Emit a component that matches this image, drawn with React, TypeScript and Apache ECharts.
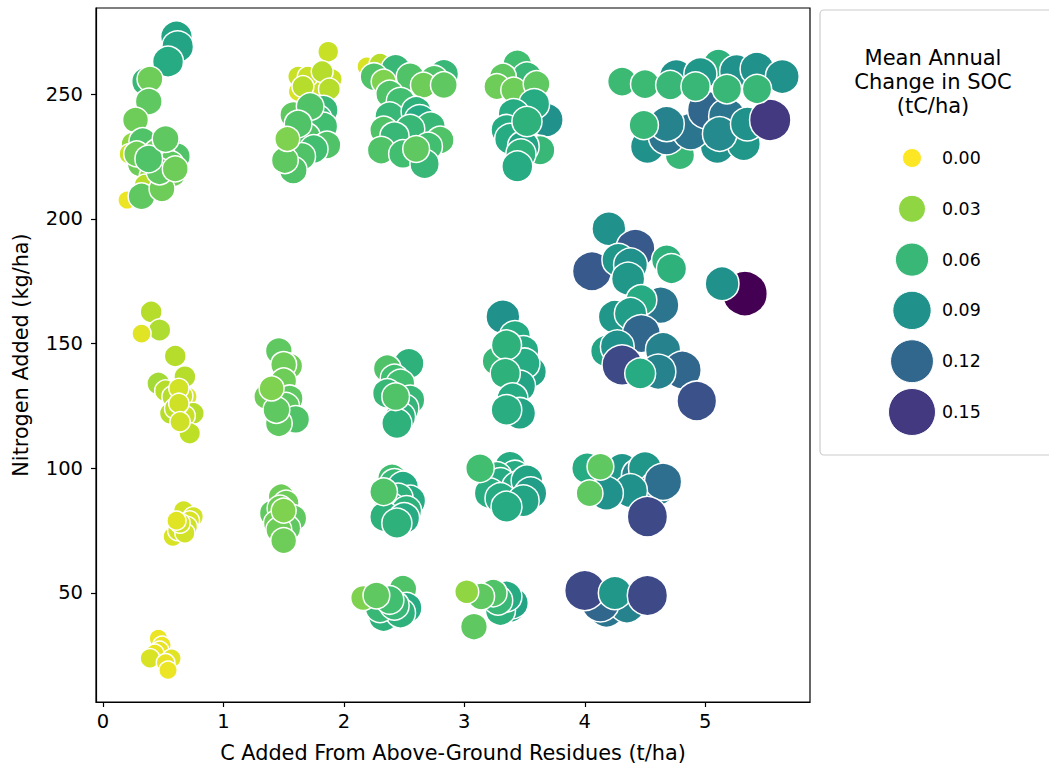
import React, { useEffect, useRef } from "react";
import * as echarts from "echarts";

// C added from above-ground residues (t/ha)
const residueC = [
  // cluster ~0.4, N 205-273
  0.61, 0.62, 0.54, 0.36, 0.39, 0.38, 0.27, 0.25, 0.33, 0.45, 0.54, 0.61, 0.22, 0.31, 0.43, 0.5, 0.56, 0.58, 0.4, 0.2, 0.35, 0.32, 0.49,
  0.28, 0.47, 0.38, 0.6, 0.52,
  // cluster ~1.7, N 219-267
  1.87, 1.9, 1.62, 1.77, 1.62, 1.7, 1.82, 1.66, 1.88, 1.83, 1.78, 1.58, 1.83, 1.69, 1.86, 1.72, 1.75, 1.62, 1.65, 1.58, 1.51, 1.53,
  // cluster ~2.5, N 222-262
  2.19, 2.3, 2.43, 2.25, 2.55, 2.83, 2.75, 2.33, 2.66, 2.83, 2.38, 2.47, 2.38, 2.6, 2.63, 2.72, 2.33, 2.55, 2.42, 2.8, 2.7, 2.31, 2.49, 2.67, 2.6,
  // cluster ~3.45, N 221-262
  3.44, 3.52, 3.32, 3.27, 3.41, 3.6, 3.68, 3.58, 3.41, 3.35, 3.38, 3.63, 3.49, 3.47, 3.44, 3.52,
  // cluster ~5, N 225-262
  5.11, 4.76, 4.96, 5.26, 5.43, 5.64, 4.52, 4.79, 5.1, 5.32, 4.68, 4.88, 5.01, 5.18, 5.12, 5.35, 5.54, 4.68,
  4.31, 4.5, 4.71, 4.92, 5.18, 5.43, 4.49,
  // cluster ~4.5, N 127-196
  4.2, 4.42, 4.06, 4.28, 4.38, 4.36, 4.68, 4.72, 5.33, 5.14, 4.63, 4.47, 4.25, 4.38, 4.47, 4.18, 4.27, 4.65, 4.31, 4.81, 4.93, 4.61, 4.46,
  // cluster ~3.4, N 122-161
  3.32, 3.27, 3.42, 3.55, 3.49, 3.5, 3.35, 3.46, 3.34, 3.4, 3.46, 3.35,
  // cluster ~2.45, N 118-142
  2.54, 2.36, 2.42, 2.47, 2.36, 2.55, 2.5, 2.47, 2.44, 2.43,
  // cluster ~1.5, N 118-147
  1.46, 1.55, 1.5, 1.5, 1.36, 1.55, 1.52, 1.6, 1.46, 1.44, 1.4,
  // cluster ~0.6, N 114-163
  0.4, 0.47, 0.32, 0.6, 0.46, 0.68, 0.52, 0.7, 0.58, 0.66, 0.63, 0.75, 0.56, 0.68, 0.6, 0.63, 0.72, 0.64,
  // cluster ~0.67, N 72-83
  0.67, 0.75, 0.72, 0.7, 0.58, 0.62, 0.68, 0.64, 0.61,
  // cluster ~1.5, N 71-89
  1.48, 1.52, 1.58, 1.41, 1.47, 1.44, 1.53, 1.46, 1.5, 1.5,
  // cluster ~2.45, N 78-96
  2.4, 2.42, 2.49, 2.55, 2.45, 2.38, 2.52, 2.34, 2.5, 2.44, 2.33,
  // cluster ~3.35, N 85-101
  3.38, 3.42, 3.27, 3.3, 3.44, 3.52, 3.55, 3.21, 3.3, 3.49, 3.35, 3.13,
  // cluster ~4.3, N 80-101
  4.02, 4.22, 4.31, 4.45, 4.5, 4.6, 4.65, 4.38, 4.18, 4.13, 4.04, 4.52,
  // cluster ~2.35, N 40-52
  2.49, 2.52, 2.33, 2.47, 2.3, 2.42, 2.38, 2.16, 2.27,
  // cluster ~3.2, N 36-51
  3.38, 3.4, 3.3, 3.35, 3.28, 3.24, 3.14, 3.02, 3.08,
  // cluster ~4.25, N 43-51
  4.18, 4.35, 4.13, 4.0, 4.25, 4.52,
  // cluster ~0.5, N 19-32
  0.46, 0.49, 0.47, 0.43, 0.39, 0.57, 0.52, 0.54,
];

// Nitrogen added (kg/ha)
const nitrogen = [
  273, 269, 263, 255, 256, 247, 239.6, 230, 231, 227, 228.4, 225, 226, 222, 221, 225, 222, 218, 217, 207.5, 213.5, 209, 212,
  226, 219, 224, 220, 232,
  267, 256, 257, 253.6, 251, 257, 259, 253, 252, 243.6, 240, 241.6, 237, 233, 229.6, 245, 228, 238, 225, 219.5, 223.5, 232,
  261, 262, 260, 257, 257, 258, 256, 255, 253.6, 253.6, 250, 247, 241, 243, 239.6, 237, 235.6, 236, 233, 231.6, 229, 227.5, 226, 222, 228,
  262, 257, 257, 253, 251.6, 254, 239.6, 246, 242, 235.6, 232, 227.5, 229, 226, 221, 239,
  262, 257, 258, 259, 260, 257, 229, 225.6, 229, 230, 233, 235, 243.6, 241, 234, 238, 239.6, 238,
  255, 254, 253.6, 253, 252, 252, 237.6,
  196, 188, 179, 183.5, 181.5, 176, 183.5, 180, 170, 174, 165.4, 167.4, 160.7, 162, 154, 147, 148.7, 147.4, 141.4, 139.4, 127, 138.7, 138,
  160.7, 143, 153, 138.7, 147, 142, 149.4, 133, 138, 128, 122, 123.4,
  142, 140, 136, 134, 130, 127.4, 124, 120.6, 118, 128.7,
  147, 141, 141.6, 135, 128.7, 128, 125, 119.6, 118, 123.4, 132,
  162.7, 155.4, 154, 145, 134, 136.7, 131, 128.7, 128.7, 129, 132, 122, 122, 121, 124, 126, 114, 118.6,
  83, 80.6, 79, 76.6, 72.6, 75, 74, 78, 79,
  88.6, 86, 80, 82, 84, 78, 76, 75.3, 71, 83,
  96, 94, 92.6, 87, 88, 84.6, 83, 80.6, 80, 78, 90.6,
  100.6, 97, 96.6, 94, 92.6, 95, 90, 90, 88, 87, 84.6, 100,
  100, 97, 99.3, 97, 100, 92, 94.6, 91, 90, 100.6, 90, 80.6,
  51.6, 44, 40.6, 42, 44, 45, 47.2, 48, 49,
  44.6, 46, 43, 48.6, 47, 50, 48.6, 50.5, 36.5,
  43.6, 45, 46, 51, 50, 49,
  31.8, 29, 27, 25.8, 23.8, 23.8, 22, 19,
];

// Mean annual change in SOC (tC/ha)
const socChange = [
  0.075, 0.075, 0.07, 0.06, 0.04, 0.045, 0.04, 0.03, 0.05, 0.04, 0.05, 0.05, 0.015, 0.04, 0.045, 0.035, 0.045, 0.04, 0.03, 0.005, 0.02, 0.045, 0.04,
  0.04, 0.045, 0.05, 0.04, 0.045,
  0.015, 0.015, 0.015, 0.015, 0.01, 0.015, 0.02, 0.02, 0.02, 0.06, 0.06, 0.045, 0.055, 0.05, 0.05, 0.05, 0.055, 0.05, 0.05, 0.05, 0.045, 0.035,
  0.01, 0.02, 0.06, 0.05, 0.05, 0.06, 0.05, 0.035, 0.04, 0.045, 0.05, 0.055, 0.06, 0.065, 0.07, 0.06, 0.05, 0.06, 0.06, 0.05, 0.055, 0.05, 0.055, 0.06, 0.045,
  0.055, 0.06, 0.045, 0.04, 0.04, 0.045, 0.09, 0.07, 0.07, 0.07, 0.07, 0.06, 0.075, 0.065, 0.07, 0.065,
  0.065, 0.09, 0.085, 0.09, 0.09, 0.09, 0.09, 0.06, 0.09, 0.085, 0.11, 0.11, 0.12, 0.11, 0.095, 0.09, 0.15, 0.1,
  0.058, 0.058, 0.06, 0.06, 0.06, 0.06, 0.06,
  0.09, 0.13, 0.13, 0.085, 0.09, 0.085, 0.065, 0.065, 0.18, 0.09, 0.11, 0.07, 0.085, 0.08, 0.12, 0.075, 0.09, 0.1, 0.14, 0.12, 0.135, 0.1, 0.07,
  0.09, 0.06, 0.07, 0.075, 0.07, 0.07, 0.065, 0.075, 0.065, 0.07, 0.075, 0.068,
  0.065, 0.05, 0.055, 0.055, 0.06, 0.06, 0.062, 0.065, 0.065, 0.05,
  0.045, 0.04, 0.04, 0.04, 0.04, 0.045, 0.045, 0.05, 0.045, 0.045, 0.035,
  0.02, 0.022, 0.008, 0.02, 0.025, 0.02, 0.02, 0.01, 0.02, 0.015, 0.012, 0.02, 0.02, 0.015, 0.018, 0.013, 0.018, 0.013,
  0.012, 0.012, 0.01, 0.013, 0.01, 0.012, 0.012, 0.012, 0.008,
  0.04, 0.04, 0.045, 0.045, 0.04, 0.04, 0.045, 0.04, 0.04, 0.035,
  0.055, 0.06, 0.07, 0.07, 0.065, 0.065, 0.065, 0.065, 0.07, 0.065, 0.05,
  0.07, 0.07, 0.065, 0.07, 0.07, 0.075, 0.08, 0.068, 0.07, 0.075, 0.07, 0.055,
  0.07, 0.09, 0.085, 0.1, 0.085, 0.1, 0.115, 0.09, 0.09, 0.045, 0.045, 0.14,
  0.05, 0.07, 0.065, 0.065, 0.06, 0.06, 0.055, 0.035, 0.045,
  0.075, 0.075, 0.065, 0.07, 0.06, 0.05, 0.045, 0.03, 0.045,
  0.11, 0.1, 0.12, 0.14, 0.085, 0.14,
  0.005, 0.005, 0.006, 0.006, 0.01, 0.008, 0.006, 0.005,
];

const xTicks = [0, 1, 2, 3, 4, 5];
const yTicks = [50, 100, 150, 200, 250];
const legendLevels = [0.0, 0.03, 0.06, 0.09, 0.12, 0.15];
const legendTitle = ["Mean Annual", "Change in SOC", "(tC/ha)"];

const SOC_MIN = 0;
const SOC_MAX = 0.18;
const viridis = [
  "#440154", "#482475", "#414487", "#355f8d", "#2a788e", "#21918c",
  "#22a884", "#44bf70", "#7ad151", "#bddf26", "#fde725",
];
const colorRamp = viridis.slice().reverse(); // low -> yellow, high -> purple

function hexToRgb(h: string) {
  const n = parseInt(h.slice(1), 16);
  return [(n >> 16) & 255, (n >> 8) & 255, n & 255];
}
function colorFor(v: number) {
  let t = (v - SOC_MIN) / (SOC_MAX - SOC_MIN);
  t = Math.max(0, Math.min(1, t));
  const pos = t * (colorRamp.length - 1);
  const i = Math.min(colorRamp.length - 2, Math.floor(pos));
  const f = pos - i;
  const a = hexToRgb(colorRamp[i]);
  const b = hexToRgb(colorRamp[i + 1]);
  const c = a.map((av, k) => Math.round(av + (b[k] - av) * f));
  return `rgb(${c[0]},${c[1]},${c[2]})`;
}
const plotSize = (v: number) => Math.sqrt(290 + 9500 * v);
const legendSize = (v: number) => Math.sqrt(361 + 12320 * v);

const FONT = "DejaVu Sans";

export default function App() {
  const ref = useRef<HTMLDivElement>(null);
  useEffect(() => {
    if (!ref.current) return;
    const chart = echarts.init(ref.current, undefined, { renderer: "svg" });
    const data = residueC.map((x, i) => [x, nitrogen[i], socChange[i]]);

    const legendX = 912;
    const legendY0 = 158;
    const legendStep = 50.8;
    const graphics: any[] = [
      {
        type: "rect",
        shape: { x: 820, y: 10, width: 260, height: 445, r: 4 },
        style: { fill: "#fff", stroke: "#cccccc", lineWidth: 1.2 },
        z: 10,
      },
      ...legendTitle.map((t, i) => ({
        type: "text",
        x: 933,
        y: 58 + i * 24,
        style: {
          text: t,
          fontSize: 21,
          fontFamily: FONT,
          fill: "#000",
          align: "center",
          verticalAlign: "middle",
        },
        z: 11,
      })),
      ...legendLevels.map((v, i) => ({
        type: "circle",
        shape: { cx: legendX, cy: legendY0 + i * legendStep, r: legendSize(v) / 2 },
        style: { fill: colorFor(v), stroke: "#fff", lineWidth: 1 },
        z: 11,
      })),
      ...legendLevels.map((v, i) => ({
        type: "text",
        x: 942,
        y: legendY0 + i * legendStep,
        style: {
          text: v.toFixed(2),
          fontSize: 17.4,
          fontFamily: FONT,
          fill: "#000",
          align: "left",
          verticalAlign: "middle",
        },
        z: 11,
      })),
    ];

    chart.setOption({
      animation: false,
      backgroundColor: "#fff",
      textStyle: { fontFamily: FONT },
      grid: {
        left: 96,
        top: 8,
        width: 714,
        height: 694,
        show: true,
        borderColor: "#000",
        borderWidth: 1.2,
        backgroundColor: "transparent",
      },
      visualMap: {
        show: false,
        type: "continuous",
        dimension: 2,
        min: SOC_MIN,
        max: SOC_MAX,
        inRange: { color: colorRamp },
      },
      xAxis: {
        type: "value",
        min: -0.058,
        max: 5.87,
        name: "C Added From Above-Ground Residues (t/ha)",
        nameLocation: "middle",
        nameGap: 40,
        nameTextStyle: { fontSize: 20.8, color: "#000", fontFamily: FONT },
        axisLine: { show: true, onZero: false, lineStyle: { color: "#000", width: 1.2 } },
        axisTick: { show: true, length: 5, customValues: xTicks, lineStyle: { color: "#000", width: 1.2 } },
        axisLabel: { customValues: xTicks, fontSize: 19.5, color: "#000", margin: 9, fontFamily: FONT },
        splitLine: { show: false },
      },
      yAxis: {
        type: "value",
        min: 6.3,
        max: 284.5,
        name: "Nitrogen Added (kg/ha)",
        nameLocation: "middle",
        nameGap: 65,
        nameRotate: 90,
        nameTextStyle: { fontSize: 20.8, color: "#000", fontFamily: FONT },
        axisLine: { show: true, onZero: false, lineStyle: { color: "#000", width: 1.2 } },
        axisTick: { show: true, length: 5, customValues: yTicks, lineStyle: { color: "#000", width: 1.2 } },
        axisLabel: { customValues: yTicks, fontSize: 19.5, color: "#000", margin: 13, fontFamily: FONT },
        splitLine: { show: false },
      },
      series: [
        {
          type: "scatter",
          data,
          symbol: "circle",
          symbolSize: (val: number[]) => plotSize(val[2]),
          itemStyle: { borderColor: "#fff", borderWidth: 1.5, opacity: 1 },
          emphasis: { disabled: true },
        },
      ],
      graphic: graphics,
    });
    return () => chart.dispose();
  }, []);

  return (
    <div
      ref={ref}
      style={{ position: "absolute", left: 0, top: 0, width: 1049, height: 772, background: "#fff" }}
    />
  );
}
